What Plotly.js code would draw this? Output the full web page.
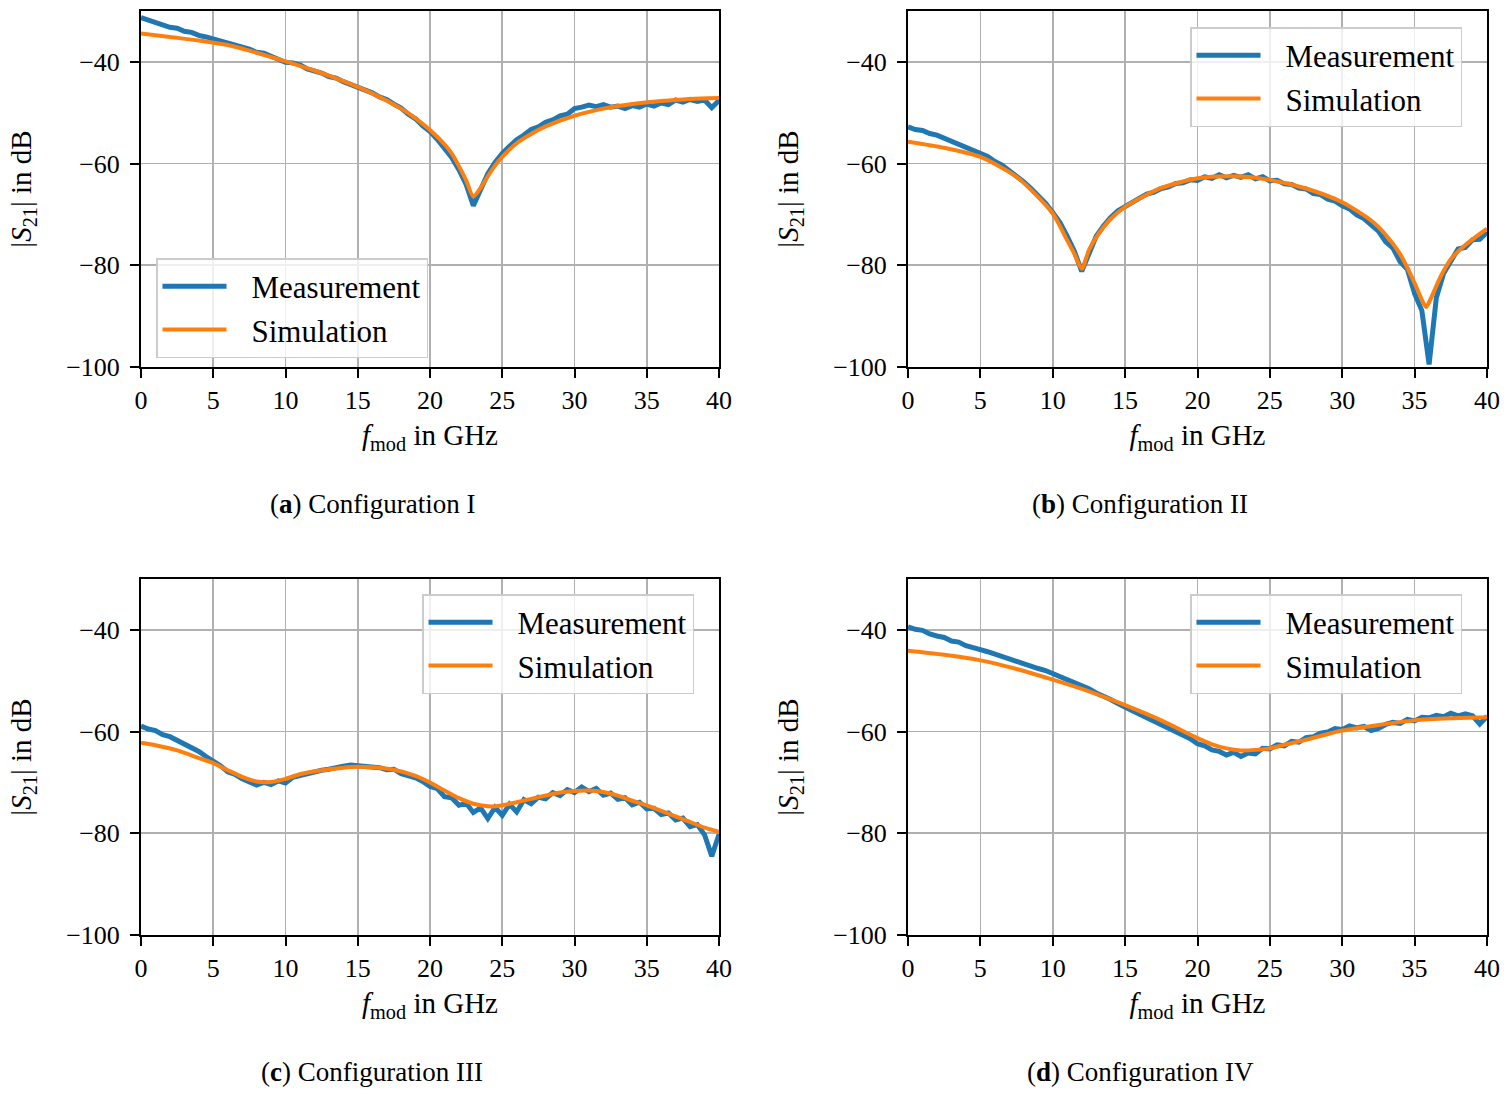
<!DOCTYPE html>
<html>
<head>
<meta charset="utf-8">
<script src="https://cdn.plot.ly/plotly-3.0.1.min.js"></script>
<style>html,body{margin:0;padding:0;background:#fff;}</style>
</head>
<body>
<div id="chart" style="width:1510px;height:1097px;"></div>
<script>
// Frequency grid of the measurement (GHz)
const fMeas = [0,0.5,1,1.5,2,2.5,3,3.5,4,4.5,5,5.5,6,6.5,7,7.5,8,8.5,9,9.5,10,10.5,11,11.5,12,12.5,13,13.5,14,14.5,15,15.5,16,16.5,17,17.5,18,18.5,19,19.5,20,20.5,21,21.5,22,22.5,23,23.5,24,24.5,25,25.5,26,26.5,27,27.5,28,28.5,29,29.5,30,30.5,31,31.5,32,32.5,33,33.5,34,34.5,35,35.5,36,36.5,37,37.5,38,38.5,39,39.5,40];

// (a) Configuration I
const measA = [-31.3,-31.8,-32.3,-32.6,-33.2,-33.4,-34.0,-34.2,-34.8,-35.1,-35.5,-35.9,-36.4,-36.6,-37.2,-37.5,-38.1,-38.3,-38.9,-39.6,-40.1,-40.2,-40.6,-41.4,-41.8,-42.2,-42.9,-43.2,-43.9,-44.4,-44.9,-45.5,-46.1,-46.9,-47.4,-48.3,-49.1,-50.3,-51.2,-52.6,-53.7,-55.2,-56.9,-58.8,-61.2,-64.1,-68.3,-65.2,-62.0,-59.8,-58.0,-56.6,-55.3,-54.4,-53.3,-52.8,-51.9,-51.4,-50.6,-50.3,-49.2,-48.9,-48.5,-48.8,-48.4,-48.9,-48.7,-49.2,-48.6,-48.9,-48.3,-48.7,-48.1,-48.4,-47.5,-47.9,-47.4,-47.8,-47.5,-49.0,-47.6];
const fSimA = [0,2,4,6,8,10,12,14,16,18,19,20,21,21.5,22,22.5,23,23.5,24,24.5,25,26,27,28,30,32,34,36,38,40];
const simA = [-34.4,-35.1,-35.8,-36.7,-38.2,-39.9,-41.7,-43.8,-46.2,-49.2,-51.1,-53.4,-56.2,-58.0,-60.5,-63.3,-66.5,-64.8,-62.5,-60.4,-58.7,-56.0,-54.2,-52.7,-50.6,-49.2,-48.3,-47.7,-47.3,-47.1];

// (b) Configuration II
const measB = [-52.8,-53.3,-53.5,-54.1,-54.4,-55.0,-55.4,-56.0,-56.6,-57.2,-58.0,-58.6,-59.6,-60.3,-61.4,-62.4,-63.6,-64.9,-66.2,-67.8,-69.6,-71.6,-74.3,-77.3,-81.2,-77.6,-74.3,-72.3,-70.6,-69.3,-68.4,-67.5,-66.8,-66.0,-65.6,-64.9,-64.6,-63.9,-63.8,-63.2,-63.3,-62.6,-62.9,-62.2,-62.8,-62.3,-62.7,-62.2,-63.0,-62.6,-63.4,-63.3,-64.0,-64.1,-64.8,-65.0,-65.9,-66.1,-67.0,-67.4,-68.3,-68.9,-70.1,-70.8,-72.2,-73.3,-75.4,-76.6,-79.3,-80.8,-85.6,-88.9,-99.5,-86.4,-81.6,-79.4,-76.8,-76.5,-75.0,-74.9,-73.5];
const fSimB = [0,2.5,5,7.5,9,10,11,11.5,12,12.5,13,14,15,17.5,20,22.5,25,27.5,30,32,33,34,35,35.5,35.8,36.2,36.8,37.5,38.5,40];
const simB = [-55.7,-56.9,-58.7,-62.6,-66.6,-69.8,-75.1,-77.8,-80.7,-77.0,-74.5,-70.9,-68.5,-64.8,-62.9,-62.5,-63.2,-64.9,-67.6,-71.2,-74.0,-77.8,-83.5,-86.8,-88.2,-86.0,-82.2,-78.8,-76.0,-72.8];

// (c) Configuration III
const measC = [-58.9,-59.5,-59.8,-60.6,-61.0,-61.7,-62.3,-63.2,-63.9,-64.9,-65.8,-66.7,-67.9,-68.4,-69.3,-69.8,-70.5,-70.0,-70.4,-69.7,-70.1,-69.0,-68.6,-68.2,-68.0,-67.6,-67.4,-67.0,-66.8,-66.6,-66.7,-66.9,-67.0,-67.1,-67.5,-67.4,-68.3,-68.7,-69.1,-69.8,-70.8,-71.2,-72.8,-73.0,-74.5,-74.1,-75.9,-75.0,-77.1,-74.9,-76.5,-74.3,-75.8,-73.4,-74.2,-72.9,-73.2,-72.0,-72.6,-71.4,-72.0,-70.9,-71.8,-71.2,-72.5,-72.1,-73.3,-73.0,-74.4,-73.9,-75.2,-75.1,-76.3,-76.0,-77.4,-77.0,-78.7,-78.3,-80.3,-84.5,-80.2];
const fSimC = [0,1,2.5,4,5,6,7,8,9,10,11,12.5,14,15,16,17.5,19,20,21,22,23,24,24.5,25,26,27.5,29,30,31,32,33,34,35,36,37.5,39,40];
const simC = [-62.2,-62.7,-63.7,-65.2,-66.2,-67.6,-68.9,-69.8,-69.9,-69.3,-68.4,-67.6,-67.1,-66.9,-67.0,-67.5,-68.7,-70.0,-71.6,-73.1,-74.2,-74.7,-74.7,-74.5,-73.9,-72.9,-72.0,-71.7,-71.6,-71.9,-72.6,-73.6,-74.5,-75.6,-77.2,-78.9,-79.7];

// (d) Configuration IV
const measD = [-39.4,-39.9,-40.1,-40.8,-41.2,-41.5,-42.2,-42.4,-43.1,-43.4,-43.9,-44.3,-44.8,-45.3,-45.6,-46.2,-46.6,-47.1,-47.6,-48.0,-48.6,-49.1,-49.6,-50.4,-51.0,-51.6,-52.4,-53.0,-53.7,-54.5,-55.1,-55.9,-56.6,-57.3,-57.9,-58.6,-59.3,-60.0,-60.8,-61.4,-62.4,-62.8,-63.6,-63.9,-64.6,-64.1,-64.9,-64.2,-64.4,-63.3,-63.4,-62.6,-62.8,-61.9,-62.1,-61.2,-61.0,-60.3,-60.1,-59.4,-59.6,-58.9,-59.3,-59.0,-59.8,-59.4,-58.6,-58.2,-58.4,-57.6,-57.9,-57.2,-57.3,-56.8,-57.1,-56.4,-56.9,-56.5,-56.9,-58.5,-57.0];
const fSimD = [0,2.5,5,7.5,10,12.5,15,17.5,20,21,22,23,24,25,26,27.5,30,32.5,35,37.5,40];
const simD = [-44.1,-44.9,-46.0,-47.7,-49.8,-52.1,-54.8,-57.8,-61.3,-62.5,-63.3,-63.7,-63.6,-63.3,-62.6,-61.6,-59.8,-58.7,-57.8,-57.4,-57.2];

const captions = ['(<b>a</b>) Configuration I','(<b>b</b>) Configuration II','(<b>c</b>) Configuration III','(<b>d</b>) Configuration IV'];
const xTicks = [0,5,10,15,20,25,30,35,40];
const yTicks = [-100,-80,-60,-40];

const FONT = 'Liberation Serif';
const BLUE = '#1f77b4', ORANGE = '#ff7f0e';

const panels = [
  {meas: measA, fs: fSimA, sim: simA},
  {meas: measB, fs: fSimB, sim: simB},
  {meas: measC, fs: fSimC, sim: simC},
  {meas: measD, fs: fSimD, sim: simD}
];

const W = 1510, H = 1097;
const xDom = [[141/W, 719/W],[908/W, 1487/W],[141/W, 719/W],[908/W, 1487/W]];
const yDom = [[1-367/H, 1-11/H],[1-367/H, 1-11/H],[1-935/H, 1-579/H],[1-935/H, 1-579/H]];
const legPos = [[156/W, 1-258/H],[1190/W, 1-27/H],[422/W, 1-594/H],[1190/W, 1-594/H]];
const capPos = [[372/W, 1-504/H],[1140/W, 1-504/H],[372/W, 1-1072/H],[1140/W, 1-1072/H]];

const traces = [];
const layout = {
  width: W, height: H,
  margin: {l:0, r:0, t:0, b:0},
  paper_bgcolor: '#fff', plot_bgcolor: '#fff',
  font: {family: FONT, color: '#000', size: 26},
  annotations: []
};

panels.forEach((p, i) => {
  const n = i === 0 ? '' : String(i+1);
  const legName = 'legend' + n;
  traces.push({
    type: 'scatter', mode: 'lines', x: fMeas, y: p.meas, name: 'Measurement',
    xaxis: 'x' + n, yaxis: 'y' + n, legend: legName,
    line: {color: BLUE, width: 5}
  });
  traces.push({
    type: 'scatter', mode: 'lines', x: p.fs, y: p.sim, name: 'Simulation',
    xaxis: 'x' + n, yaxis: 'y' + n, legend: legName,
    line: {color: ORANGE, width: 4, shape: 'spline', smoothing: 0.7}
  });
  layout['xaxis' + n] = {
    domain: xDom[i], anchor: 'y' + n, range: [0, 40],
    tickmode: 'array', tickvals: xTicks,
    showgrid: true, gridcolor: '#b0b0b0', gridwidth: 1.6, zeroline: false,
    showline: true, linecolor: '#000', linewidth: 2, mirror: true,
    ticks: 'outside', ticklen: 9, tickwidth: 2, tickcolor: '#000',
    tickfont: {size: 26, family: FONT, color: '#000'},
    title: {text: '<i>f</i><sub>mod</sub> in GHz', font: {size: 29, family: FONT, color: '#000'}, standoff: 10},
    automargin: false
  };
  layout['yaxis' + n] = {
    domain: yDom[i], anchor: 'x' + n, range: [-100, -30],
    tickmode: 'array', tickvals: yTicks,
    showgrid: true, gridcolor: '#b0b0b0', gridwidth: 1.6, zeroline: false,
    showline: true, linecolor: '#000', linewidth: 2, mirror: true,
    ticks: 'outside', ticklen: 9, tickwidth: 2, tickcolor: '#000',
    ticklabelstandoff: 5,
    tickfont: {size: 26, family: FONT, color: '#000'},
    title: {text: '|<i>S</i><sub>21</sub>| in dB', font: {size: 29, family: FONT, color: '#000'}, standoff: 26},
    automargin: false
  };
  layout[legName] = {
    x: legPos[i][0], y: legPos[i][1], xanchor: 'left', yanchor: 'top',
    xref: 'paper', yref: 'paper',
    bgcolor: 'rgba(255,255,255,0.8)', bordercolor: '#cccccc', borderwidth: 1.5,
    font: {size: 31, family: FONT, color: '#000'},
    itemwidth: 84
  };
  layout.annotations.push({
    xref: 'paper', yref: 'paper', x: capPos[i][0], y: capPos[i][1],
    xanchor: 'center', yanchor: 'middle', showarrow: false,
    text: captions[i], font: {size: 27, family: FONT, color: '#000'}
  });
});

Plotly.newPlot('chart', traces, layout, {displayModeBar: false, staticPlot: true}).then(() => {
  document.querySelectorAll('.legendlines path').forEach(pth => pth.setAttribute('d', 'M5,0h64'));
});
</script>
</body>
</html>
